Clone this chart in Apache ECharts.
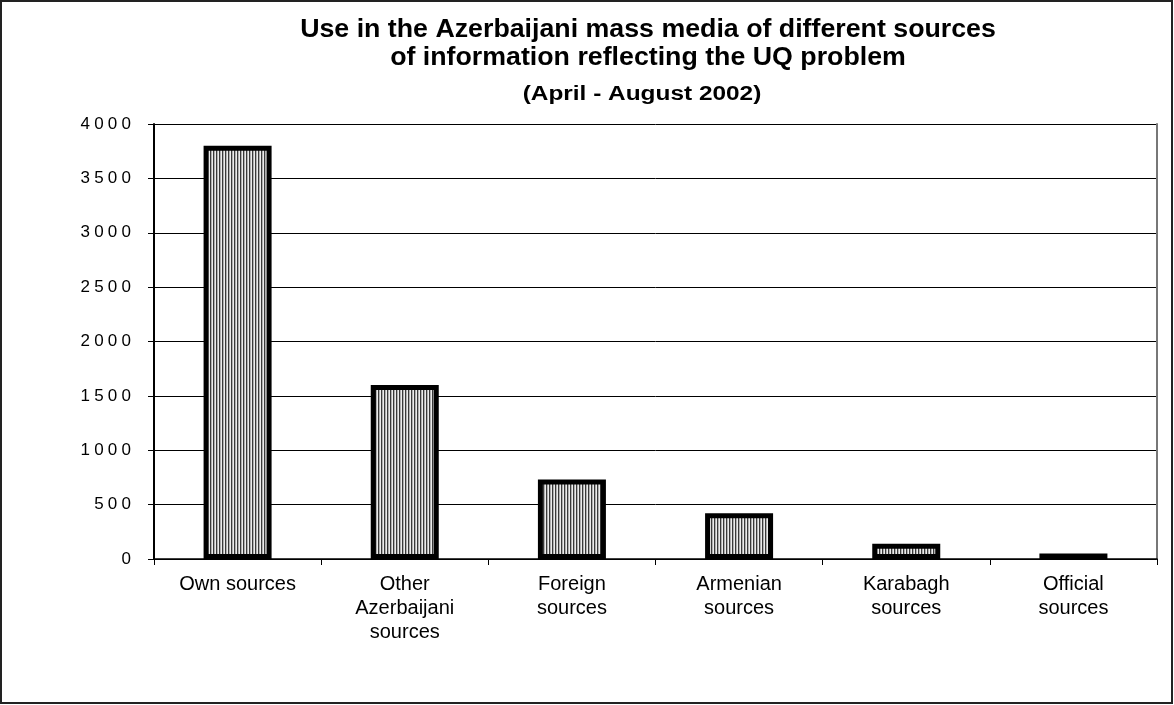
<!DOCTYPE html>
<html>
<head>
<meta charset="utf-8">
<script src="https://cdn.jsdelivr.net/npm/echarts@6/dist/echarts.min.js"></script>
<style>html,body{margin:0;padding:0;background:#fff}#c{width:1174px;height:705px}</style>
</head>
<body>
<div id="c"></div>
<script>
var categories = ['Own sources', 'Other\nAzerbaijani\nsources', 'Foreign\nsources', 'Armenian\nsources', 'Karabagh\nsources', 'Official\nsources'];
var values = [3800, 1600, 730, 420, 140, 50];
var titleLines = ['Use in the Azerbaijani mass media of different sources', 'of information reflecting the UQ problem'];
var subtitle = '(April - August 2002)';

var pc = document.createElement('canvas');
pc.width = 3; pc.height = 4;
var pctx = pc.getContext('2d');
pctx.fillStyle = '#3a3a3a'; pctx.fillRect(0, 0, 1, 4);
pctx.fillStyle = '#b0b0b0'; pctx.fillRect(1, 0, 1, 4);
pctx.fillStyle = '#ececec'; pctx.fillRect(2, 0, 1, 4);

var FONT = 'Liberation Sans, Arial, sans-serif';
function titleText(txt, x, y, size, sx) {
  return {type: 'text', x: x, y: y, scaleX: sx, silent: true,
    style: {text: txt, fill: '#000', font: 'bold ' + size + 'px ' + FONT, textAlign: 'center', textVerticalAlign: 'middle'}};
}

var chart = echarts.init(document.getElementById('c'), null, {renderer: 'canvas'});
chart.setOption({
  backgroundColor: '#fff',
  animation: false,
  graphic: [
    {type: 'rect', shape: {x: 1, y: 1, width: 1171, height: 702}, style: {fill: 'none', stroke: '#222', lineWidth: 2}, silent: true},
    titleText(titleLines[0], 648, 30, 25, 1.07),
    titleText(titleLines[1], 648, 58, 25, 1.07),
    titleText(subtitle, 642, 94, 20, 1.22)
  ],
  grid: {left: 154, right: 17, top: 124, bottom: 146},
  xAxis: {
    type: 'category', data: categories,
    axisLine: {lineStyle: {color: '#000', width: 1.5}},
    axisTick: {show: true, alignWithLabel: false, length: 6, lineStyle: {color: '#000'}},
    axisLabel: {fontFamily: FONT, fontSize: 20, lineHeight: 24, color: '#000', margin: 13, interval: 0}
  },
  yAxis: [{
    type: 'value', min: 0, max: 4000, interval: 500,
    axisLine: {show: true, lineStyle: {color: '#000', width: 2}},
    axisTick: {show: true, length: 6, lineStyle: {color: '#000'}},
    axisLabel: {fontFamily: FONT, fontSize: 17, color: '#000', margin: 23,
      formatter: function (v) { return String(v).split('').join('\u2005'); }},
    splitLine: {lineStyle: {color: '#000', width: 1}}
  }, {
    type: 'value', min: 0, max: 4000, interval: 500, position: 'right',
    axisLine: {show: true, lineStyle: {color: '#777', width: 2}},
    axisTick: {show: false}, axisLabel: {show: false}, splitLine: {show: false}
  }],
  series: [{
    type: 'bar', data: values, barWidth: 68,
    itemStyle: {color: {image: pc, repeat: 'repeat'}, borderColor: '#000', borderWidth: 5}
  }]
});
</script>
</body>
</html>
